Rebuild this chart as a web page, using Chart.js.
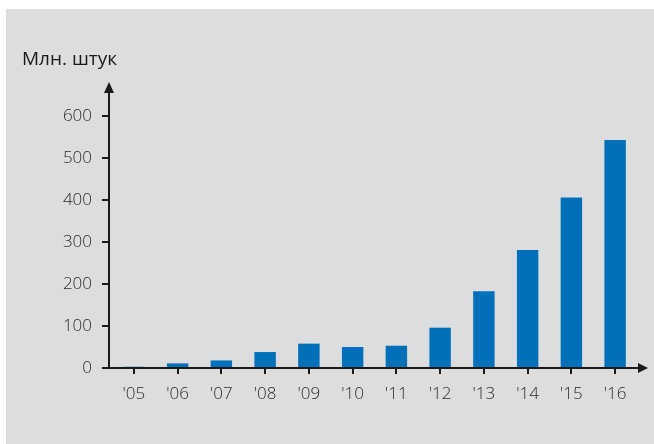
<!DOCTYPE html>
<html>
<head>
<meta charset="utf-8">
<script src="https://cdn.jsdelivr.net/npm/chart.js@4/dist/chart.umd.min.js"></script>
<style>
    html, body { margin: 0; padding: 0; background: #ffffff; }
    #chart { display: block; }
</style>
</head>
<body>
<canvas id="chart" width="654" height="444"></canvas>
<script>
// Data
const years = ["'05", "'06", "'07", "'08", "'09", "'10", "'11", "'12", "'13", "'14", "'15", "'16"];
const units = [3, 11, 18, 38, 58, 50, 53, 96, 183, 281, 406, 543];
const yTicks = [0, 100, 200, 300, 400, 500, 600];
const unitLabel = 'Млн. штук';

const FONT = '"Open Sans", "Noto Sans", sans-serif';
const TEXT = '#2b2b2b';
const AXIS = '#1a1a1a';

/**
 * Gray panel, arrowed axes, tick marks and the unit caption.
 */
const axesPlugin = {
    id: 'axes',
    beforeDraw(chart) {
        const ctx = chart.ctx;
        ctx.save();
        ctx.fillStyle = '#dcdddf';
        ctx.fillRect(6, 9, chart.width - 6, chart.height - 9);
        ctx.restore();
    },
    afterDraw(chart) {
        const ctx = chart.ctx;
        const x = chart.scales.x;
        const y = chart.scales.y;
        const y0 = y.getPixelForValue(0);
        const ax = x.left - 3;

        ctx.save();
        ctx.strokeStyle = AXIS;
        ctx.fillStyle = AXIS;
        ctx.lineWidth = 2;

        // y axis with arrow
        ctx.beginPath();
        ctx.moveTo(ax, y0);
        ctx.lineTo(ax, 88);
        ctx.stroke();
        ctx.beginPath();
        ctx.moveTo(ax, 82);
        ctx.lineTo(ax - 5, 93);
        ctx.lineTo(ax + 5, 93);
        ctx.closePath();
        ctx.fill();

        // x axis with arrow
        ctx.beginPath();
        ctx.moveTo(ax - 7, y0);
        ctx.lineTo(642, y0);
        ctx.stroke();
        ctx.beginPath();
        ctx.moveTo(648, y0);
        ctx.lineTo(638, y0 - 5);
        ctx.lineTo(638, y0 + 5);
        ctx.closePath();
        ctx.fill();

        // y ticks
        yTicks.forEach(v => {
            const py = y.getPixelForValue(v);
            ctx.beginPath();
            ctx.moveTo(ax - 7, py);
            ctx.lineTo(ax, py);
            ctx.stroke();
        });

        // x ticks
        years.forEach((_, i) => {
            const px = Math.round(x.getPixelForValue(i));
            ctx.beginPath();
            ctx.moveTo(px, y0);
            ctx.lineTo(px, y0 + 6);
            ctx.stroke();
        });

        // unit caption
        ctx.fillStyle = '#1a1a1a';
        ctx.font = '19px ' + FONT;
        ctx.textAlign = 'left';
        ctx.textBaseline = 'middle';
        ctx.fillText(unitLabel, 22, 60);
        ctx.restore();
    }
};

new Chart(document.getElementById('chart'), {
    type: 'bar',
    data: {
        labels: years,
        datasets: [{
            data: units,
            backgroundColor: '#0070ba',
            borderWidth: 0,
            categoryPercentage: 1,
            barPercentage: 0.49
        }]
    },
    options: {
        responsive: false,
        devicePixelRatio: 1,
        animation: false,
        layout: { padding: { left: 0, top: 116, right: 17, bottom: 0 } },
        plugins: {
            legend: { display: false },
            tooltip: { enabled: false }
        },
        scales: {
            x: {
                grid: { display: false, drawTicks: false },
                border: { display: false },
                ticks: {
                    color: TEXT,
                    font: { family: FONT, size: 17, weight: '300' },
                    padding: 16,
                    maxRotation: 0,
                    autoSkip: false
                },
                afterFit: s => { s.height = 76; }
            },
            y: {
                min: 0,
                max: 600,
                grid: { display: false, drawTicks: false },
                border: { display: false },
                ticks: {
                    stepSize: 100,
                    color: TEXT,
                    font: { family: FONT, size: 17, weight: '300' },
                    padding: 20
                },
                afterFit: s => { s.width = 112; }
            }
        }
    },
    plugins: [axesPlugin]
});
</script>
</body>
</html>
